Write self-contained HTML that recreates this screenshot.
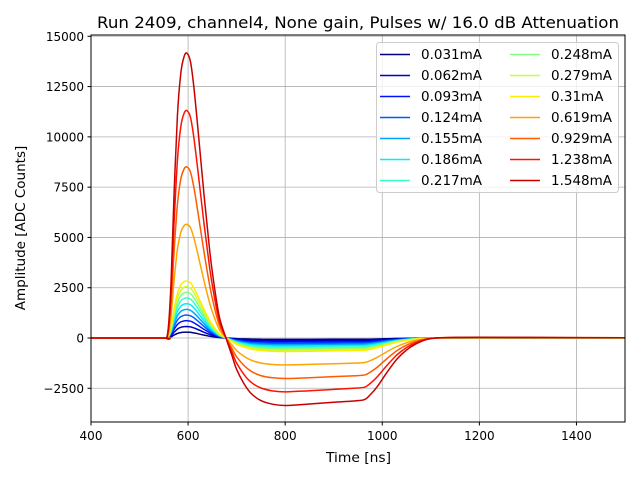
<!DOCTYPE html>
<html><head><meta charset="utf-8"><style>
body{margin:0;background:#fff;}
svg text{font-family:"DejaVu Sans","Liberation Sans",sans-serif;}
</style></head><body>
<svg id="chart" width="640" height="480" xmlns="http://www.w3.org/2000/svg">
<rect width="640" height="480" fill="#fff"/>
<text x="97" y="28" font-size="16" textLength="522" lengthAdjust="spacingAndGlyphs">Run 2409, channel4, None gain, Pulses w/ 16.0 dB Attenuation</text>
<g id="grid"></g>
<g id="series"></g>
<rect x="91" y="35" width="534" height="387" fill="none" stroke="#000" stroke-width="1"/>
<g id="ticks"></g>
<text x="326" y="462" font-size="13.5" textLength="65" lengthAdjust="spacingAndGlyphs">Time [ns]</text>
<text transform="translate(25,228) rotate(-90)" font-size="13.5" text-anchor="middle">Amplitude [ADC Counts]</text>
<g id="legend"></g>
</svg>
<script>
const labels=["0.031mA","0.062mA","0.093mA","0.124mA","0.155mA","0.186mA","0.217mA","0.248mA","0.279mA","0.31mA","0.619mA","0.929mA","1.238mA","1.548mA"];
const peaks=[290,570,860,1140,1420,1700,1990,2270,2550,2830,5650,8500,11300,14150];
const shapeT=[400,550,556,560,565,571,578,585,592,598,605,612,620,633,645,655,665,678,690,700,715,730,750,775,800,850,900,950,965,975,990,1010,1030,1050,1070,1090,1110,1150,1200,1300,1500];
const shapeV=[0,0,0,0.05,0.2,0.5,0.78,0.93,0.99,1,0.97,0.88,0.74,0.5,0.3,0.17,0.07,0,-0.06,-0.11,-0.16,-0.195,-0.22,-0.233,-0.237,-0.232,-0.226,-0.22,-0.215,-0.2,-0.17,-0.12,-0.075,-0.042,-0.02,-0.006,0,0.002,0.0025,0.002,0.001];
const xTicks=[400,600,800,1000,1200,1400];
const yTicks=[-2500,0,2500,5000,7500,10000,12500,15000];
const NS="http://www.w3.org/2000/svg";
const X=t=>91+(t-400)/1100*534;
const Y=v=>338-v*352/17500;
function jet(x){const c=v=>Math.round(255*Math.max(0,Math.min(1,v)));return `rgb(${c(1.5-Math.abs(4*x-3))},${c(1.5-Math.abs(4*x-2))},${c(1.5-Math.abs(4*x-1))})`;}
function mk(tag,attrs,parent){const e=document.createElementNS(NS,tag);for(const k in attrs)e.setAttribute(k,attrs[k]);parent.appendChild(e);return e;}
function smooth(pts){let d='M'+pts[0][0].toFixed(1)+','+pts[0][1].toFixed(1);
 for(let i=0;i<pts.length-1;i++){const p0=pts[Math.max(0,i-1)],p1=pts[i],p2=pts[i+1],p3=pts[Math.min(pts.length-1,i+2)];
  const c1x=p1[0]+(p2[0]-p0[0])/6,c1y=p1[1]+(p2[1]-p0[1])/6,c2x=p2[0]-(p3[0]-p1[0])/6,c2y=p2[1]-(p3[1]-p1[1])/6;
  d+='C'+c1x.toFixed(1)+','+c1y.toFixed(1)+' '+c2x.toFixed(1)+','+c2y.toFixed(1)+' '+p2[0].toFixed(1)+','+p2[1].toFixed(1);}
 return d;}
const grid=document.getElementById('grid'),ticks=document.getElementById('ticks');
xTicks.forEach(t=>{
 const g=mk('line',{x1:X(t),x2:X(t),y1:35,y2:422,stroke:'#b0b0b0','stroke-width':0.8},grid);
 
 
 const tk=mk('line',{x1:X(t),x2:X(t),y1:422,y2:425.5,stroke:'#000'},ticks);
 
 
 const tx=mk('text',{x:X(t),y:440,'font-size':12,'text-anchor':'middle'},ticks);tx.textContent=t;
 
 
});
yTicks.forEach(v=>{
 const g=mk('line',{x1:91,x2:625,y1:Y(v),y2:Y(v),stroke:'#b0b0b0','stroke-width':0.8},grid);
 
 
 const tk=mk('line',{x1:87.5,x2:91,y1:Y(v),y2:Y(v),stroke:'#000'},ticks);
 
 
 const tx=mk('text',{x:84,y:Y(v)+4.5,'font-size':12,'text-anchor':'end'},ticks);tx.textContent=v<0?'\u2212'+(-v):v;
 
 
});
const series=document.getElementById('series'),legend=document.getElementById('legend');
const lb=mk('rect',{x:376.5,y:42.5,width:242,height:150,rx:3,fill:'#fff','fill-opacity':0.8,stroke:'#ccc'},legend);


peaks.forEach((p,i)=>{
 const col=jet(i/14);
 const pts=shapeT.map((t,k)=>[X(t),Y(p*shapeV[k])]);
 const path=mk('path',{d:smooth(pts),fill:'none',stroke:col,'stroke-width':1.5,'stroke-linejoin':'round'},series);
 
 
 const col2=i>=7,row=i%7;
 const lx=col2?510:380,ly=54.5+row*21;
 const ll=mk('line',{x1:lx,x2:lx+30,y1:ly,y2:ly,stroke:col,'stroke-width':1.5},legend);
 
 
 const lt=mk('text',{x:lx+41,y:ly+4.5,'font-size':13.5},legend);lt.textContent=labels[i];
 
 
});
</script>
</body></html>
